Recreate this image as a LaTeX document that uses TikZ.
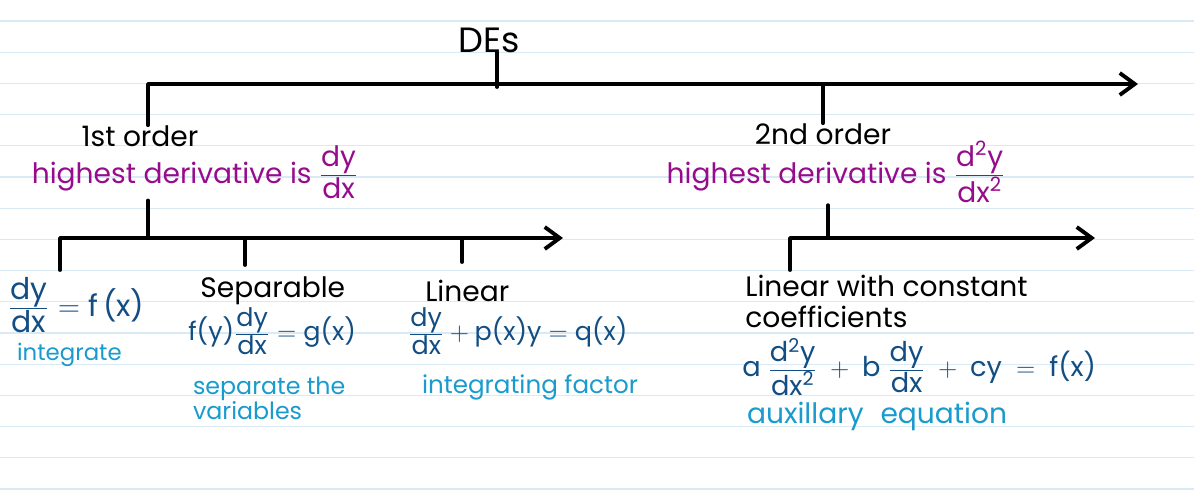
\documentclass[tikz,border=0pt]{standalone}
\usepackage{amsmath}
\usepackage{fontspec}
\setmainfont{Poppins}
\usepackage{tikz}
\usetikzlibrary{arrows.meta, positioning}
\definecolor{inkpurple}{RGB}{150, 12, 140}
\definecolor{inkblue}{RGB}{18, 78, 132}
\definecolor{inklight}{RGB}{25, 155, 205}
\definecolor{ruled}{RGB}{218, 234, 244}
\newcommand{\dd}[2]{\tfrac{\mbox{#1}}{\mbox{#2}}}

\begin{document}
\begin{tikzpicture}[x=0.02cm, y=-0.02cm,
    tree/.style={line width=2.2pt, black, line cap=round, line join=round},
    treearrow/.style={tree, -{Straight Barb[length=3mm, width=4.4mm]}},
    heading/.style={text=black, inner sep=0pt, font=\fontsize{16}{17.5}\selectfont},
    rule/.style={text=inkpurple, inner sep=1pt, font=\fontsize{16}{18}\selectfont},
    eqn/.style={text=inkblue, inner sep=0pt, font=\fontsize{14.5}{16}\selectfont},
    method/.style={text=inklight, inner sep=1pt, align=left, font=\fontsize{14}{16}\selectfont}]

    % Paper
    \useasboundingbox (0,0) rectangle (1194,501);
    \fill[white] (0,0) rectangle (1194,501);
    \foreach \k in {0,...,15}
        \draw[ruled, line width=0.6pt] (0,21+31.2*\k) -- (1194,21+31.2*\k);

    % Top
    \node[heading, font=\fontsize{20}{22}\selectfont] (des) at (489,40) {DEs};

    % Orders
    \node[heading] (first) at (140,136) {1st order};
    \node[rule] (firstrule) at (195,172) {highest derivative is $\dd{dy}{dx}$};
    \node[heading] (second) at (823,134) {2nd order};
    \node[rule] (secondrule) at (836,172) {highest derivative is $\dd{d\textsuperscript{2}y}{dx\textsuperscript{2}}$};

    % 1st order types
    \node[eqn, anchor=west, font=\fontsize{17}{18}\selectfont] (direct) at (8,305) {$\dd{dy}{dx} = \text{f\,(x)}$};
    \node[method, anchor=west, font=\fontsize{13}{15}\selectfont] (directhow) at (15,355) {integrate};
    \node[heading, anchor=west] (sep) at (200,291) {Separable};
    \node[eqn, anchor=west] (sepeq) at (188,331) {$\text{f(y)}\dd{dy}{dx} = \text{g(x)}$};
    \node[method, anchor=north west, font=\fontsize{13.5}{14}\selectfont] (sephow) at (191,375) {separate the\\variables};
    \node[heading, anchor=west] (lin) at (425,291) {Linear};
    \node[eqn, anchor=west] (lineq) at (408,331) {$\dd{dy}{dx} + \text{p(x)y} = \text{q(x)}$};
    \node[method, anchor=west] (linhow) at (420,387) {integrating factor};

    % 2nd order types
    \node[heading, anchor=north west, align=left] (lcc) at (745,275) {Linear with constant\\coefficients};
    \node[eqn, anchor=west, font=\fontsize{15.5}{17}\selectfont] (lcceq) at (742,367) {$\text{a}\;\dd{d\textsuperscript{2}y}{dx\textsuperscript{2}} \;+\; \text{b}\;\dd{dy}{dx} \;+\; \text{cy} \;=\; \text{f(x)}$};
    \node[method, anchor=west, font=\fontsize{16}{18}\selectfont] (lcchow) at (745,416) {auxillary\hspace{0.6em}equation};

    % Tree
    \coordinate (topstem) at (497,87);
    \coordinate (topend) at (1138,84);
    \coordinate (firstsplit) at (148,238);
    \coordinate (firstend) at (563,238);
    \coordinate (directtop) at (60,270);
    \coordinate (septop) at (245,265);
    \coordinate (lintop) at (462,262);
    \coordinate (secondsplit) at (828,238);
    \coordinate (secondend) at (1095,238);
    \coordinate (lcctop) at (790,270);

    \draw[tree] (des.south -| topstem) -- (topstem);
    \draw[treearrow] (firstsplit |- first.north) |- (topend);
    \draw[tree] (second.north) -- (second.north |- topend);
    \draw[tree] (firstsplit |- firstrule.south) -- (firstsplit);
    \draw[treearrow] (directtop) |- (firstend);
    \draw[tree] (septop |- firstend) -- (septop);
    \draw[tree] (lintop |- firstend) -- (lintop);
    \draw[tree] (secondsplit |- secondrule.south) -- (secondsplit);
    \draw[treearrow] (lcctop) |- (secondend);
\end{tikzpicture}
\end{document}
